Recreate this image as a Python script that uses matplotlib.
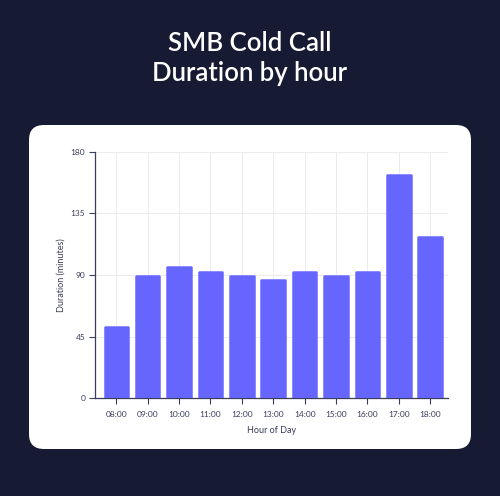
import matplotlib
matplotlib.use("Agg")
import matplotlib.pyplot as plt
from matplotlib.patches import FancyBboxPatch
import numpy as np

hours = ["08:00", "09:00", "10:00", "11:00", "12:00", "13:00",
         "14:00", "15:00", "16:00", "17:00", "18:00"]
duration = [52, 89, 96, 92, 89, 86, 92.5, 89, 92, 163, 118]
y_ticks = [0, 45, 90, 135, 180]

bg = "#171a33"
bar_color = "#6666ff"
ink = "#3b3d5c"

plt.rcParams['font.family'] = ['Lato', 'DejaVu Sans']

fig = plt.figure(figsize=(5, 4.96), dpi=100)
fig.patch.set_facecolor(bg)

# white rounded card behind the chart
card = FancyBboxPatch((29 / 500, (496 - 449) / 496), (471 - 29) / 500, (449 - 125) / 496,
                      boxstyle="round,pad=0,rounding_size=0.03",
                      transform=fig.transFigure, facecolor="white", edgecolor="none",
                      zorder=-5)
fig.patches.append(card)

fig.text(0.5, 0.913, "SMB Cold Call", ha="center", va="center",
         color="white", fontsize=18.5, fontweight="semibold")
fig.text(0.5, 0.851, "Duration by hour", ha="center", va="center",
         color="white", fontsize=18.5, fontweight="semibold")

ax = fig.add_axes([95 / 500, (496 - 398.3) / 496, (447.7 - 95) / 500, (398.3 - 151.7) / 496])
ax.set_facecolor("none")
ax.set_zorder(2)

x = np.arange(len(hours))
ax.bar(x, duration, width=0.75, color=bar_color, edgecolor=bar_color,
       linewidth=1.8, joinstyle="round", zorder=3)

ax.set_xlim(-0.68, len(hours) - 1 + 0.56)
ax.set_ylim(0, 180)
ax.set_xticks(x)
ax.set_xticklabels(hours)
ax.set_yticks(y_ticks)

ax.grid(True, color="#ececf0", linewidth=0.7, zorder=0)
for s in ["top", "right"]:
    ax.spines[s].set_visible(False)
for s in ["left", "bottom"]:
    ax.spines[s].set_color(ink)
    ax.spines[s].set_linewidth(0.9)

ax.tick_params(axis="both", colors=ink, labelsize=6, length=4, width=0.8, pad=3)
ax.tick_params(axis="x", pad=5)
ax.set_xlabel("Hour of Day", fontsize=6.5, color=ink, labelpad=6)
ax.set_ylabel("Duration (minutes)", fontsize=6.5, color=ink, labelpad=4)

fig.savefig("out.png", dpi=100, facecolor=bg)
